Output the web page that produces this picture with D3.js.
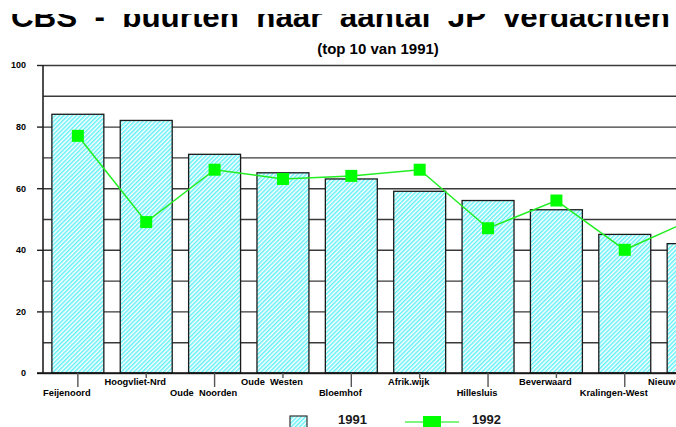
<!DOCTYPE html>
<html lang="nl">
<head>
<meta charset="utf-8">
<script src="https://d3js.org/d3.v7.min.js"></script>
<style>
  body { margin: 0; background: #fff; }
  svg { display: block; font-family: "Liberation Sans", Arial, sans-serif; }
  text { white-space: pre; }
</style>
</head>
<body>
<script>
// data
const buurten = ["Feijenoord", "Hoogvliet-Nrd", "Oude  Noorden", "Oude  Westen", "Bloemhof",
                 "Afrik.wijk", "Hillesluis", "Beverwaard", "Kralingen-West", "Nieuwe Westen"];
const v1991 = [84, 82, 71, 65, 63, 59, 56, 53, 45, 42];
const v1992 = [77, 49, 66, 63, 64, 66, 47, 56, 40, 50];
const yLabels = [0, 20, 40, 60, 80, 100];
const yGrid = d3.range(0, 101, 10);

const W = 676, H = 427;
const padLeft = 43, padTop = 65, baseY = 373;

const svg = d3.select("body").append("svg")
  .attr("width", W).attr("height", H);

// hatch pattern for the 1991 bars
const defs = svg.append("defs");
const pat = defs.append("pattern")
  .attr("id", "hatch").attr("patternUnits", "userSpaceOnUse")
  .attr("width", 3).attr("height", 3)
  .attr("patternTransform", "rotate(-45)");
pat.append("rect").attr("width", 3).attr("height", 3).attr("fill", "#ffffff");
pat.append("rect").attr("width", 3).attr("height", 1.5).attr("fill", "#62f0f8");

defs.append("clipPath").attr("id", "titleClip")
  .append("rect").attr("x", 0).attr("y", 14).attr("width", W).attr("height", 20);

// scales
const x = d3.scaleBand().domain(buurten)
  .range([padLeft, 728]).paddingInner(0.24).paddingOuter(0.13);
const y = d3.scaleLinear().domain([0, 100]).range([baseY, padTop]);

// title (clipped at top like the original)
svg.append("text")
  .attr("clip-path", "url(#titleClip)")
  .attr("x", 11).attr("y", 27)
  .attr("textLength", 659).attr("lengthAdjust", "spacingAndGlyphs")
  .attr("font-size", 30).attr("font-weight", "bold")
  .text("CBS  -  buurten  naar  aantal  JP  verdachten");

svg.append("text")
  .attr("x", 378).attr("y", 54)
  .attr("text-anchor", "middle")
  .attr("font-size", 15).attr("font-weight", "bold")
  .text("(top 10 van 1991)");

// grid lines at every 10
const grid = svg.append("g")
  .attr("transform", "translate(" + padLeft + ",0)")
  .call(d3.axisLeft(y).tickValues(yGrid).tickSize(-(W - padLeft)).tickFormat(""));
grid.select(".domain").remove();
grid.selectAll(".tick line").attr("stroke", "#3a3a3a").attr("stroke-width", 1.4);

// y labels + long ticks
const yAxis = svg.append("g")
  .attr("transform", "translate(" + padLeft + ",0)")
  .call(d3.axisLeft(y).tickValues(yLabels).tickSize(6).tickPadding(11));
yAxis.select(".domain").remove();
yAxis.selectAll(".tick line").attr("stroke", "#222").attr("stroke-width", 1.4);
yAxis.selectAll(".tick text")
  .attr("font-size", 9).attr("font-weight", "bold").attr("fill", "#000")
  .attr("font-family", "Liberation Sans, Arial, sans-serif");

// y axis line
svg.append("line")
  .attr("x1", padLeft).attr("x2", padLeft).attr("y1", y(100)).attr("y2", y(0))
  .attr("stroke", "#222").attr("stroke-width", 1.6);

// bars 1991
svg.selectAll("rect.bar")
  .data(v1991)
  .join("rect")
  .attr("class", "bar")
  .attr("x", (d, i) => x(buurten[i]))
  .attr("y", d => y(d))
  .attr("width", x.bandwidth())
  .attr("height", d => y(0) - y(d))
  .attr("fill", "url(#hatch)")
  .attr("stroke", "#1a1a1a").attr("stroke-width", 1.3);

// x axis
const xAxis = svg.append("g")
  .attr("transform", "translate(0," + baseY + ")")
  .call(d3.axisBottom(x).tickSize(0));
xAxis.select(".domain")
  .attr("d", "M37,0H" + W).attr("stroke", "#111").attr("stroke-width", 1.6);
xAxis.selectAll(".tick").each(function(d, i) {
  const t = d3.select(this);
  const low = i % 2 === 0;
  t.select("line")
    .attr("y2", low ? 14 : 5)
    .attr("stroke", "#555").attr("stroke-width", 1.4);
  t.select("text")
    .attr("x", -11).attr("y", low ? 23 : 12).attr("dy", 0)
    .attr("font-size", 9.3).attr("font-weight", "bold").attr("fill", "#000")
    .attr("font-family", "Liberation Sans, Arial, sans-serif");
});

// line 1992
const cx = i => x(buurten[i]) + x.bandwidth() / 2;
svg.append("path")
  .datum(v1992)
  .attr("fill", "none").attr("stroke", "#22ee22").attr("stroke-width", 1.5)
  .attr("d", d3.line().x((d, i) => cx(i)).y(d => y(d)));
svg.selectAll("rect.mark")
  .data(v1992)
  .join("rect")
  .attr("class", "mark")
  .attr("x", (d, i) => cx(i) - 6)
  .attr("y", d => y(d) - 6)
  .attr("width", 12).attr("height", 12)
  .attr("fill", "#00ff00");

// legend
const lg = svg.append("g");
lg.append("rect")
  .attr("x", 290).attr("y", 416).attr("width", 17).attr("height", 14)
  .attr("fill", "url(#hatch)").attr("stroke", "#333").attr("stroke-width", 1.2);
lg.append("text")
  .attr("x", 338).attr("y", 424)
  .attr("font-size", 13).attr("font-weight", "bold").attr("fill", "#1a1a1a")
  .text("1991");
lg.append("line")
  .attr("x1", 405).attr("x2", 459).attr("y1", 422).attr("y2", 422)
  .attr("stroke", "#55f055").attr("stroke-width", 1.5);
lg.append("rect")
  .attr("x", 423).attr("y", 416).attr("width", 18).attr("height", 14)
  .attr("fill", "#00ff00");
lg.append("text")
  .attr("x", 472).attr("y", 424)
  .attr("font-size", 13).attr("font-weight", "bold").attr("fill", "#1a1a1a")
  .text("1992");
</script>
</body>
</html>
